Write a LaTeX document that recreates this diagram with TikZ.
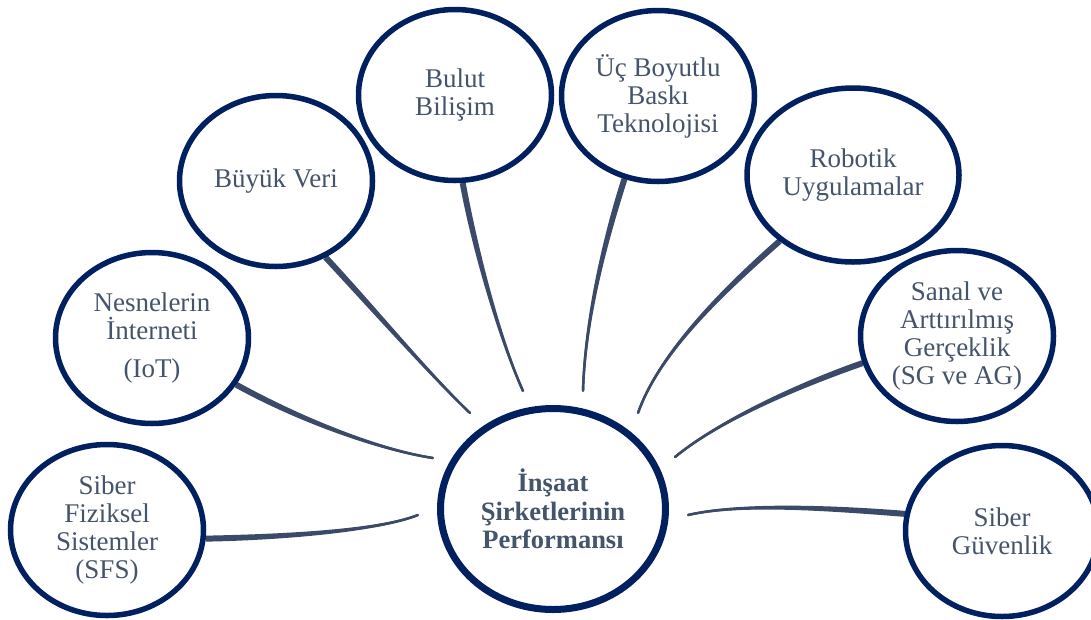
\documentclass[tikz,border=0pt]{standalone}
\usepackage{fontspec}
\setmainfont{Liberation Serif}
\usetikzlibrary{shapes.geometric,calc}
\pgfdeclarelayer{bg}
\pgfsetlayers{bg,main}
\definecolor{navy}{HTML}{002060}
\definecolor{slate}{HTML}{44546A}
\definecolor{connc}{HTML}{3B4A68}
% #1 start (node anchor), #2 control 1, #3 control 2, #4 end coordinate, #5 start half width, #6 end half width
\newcommand\tapercon[6]{%
  \coordinate (tA1) at ($(#1)!#5!90:(#2)$);
  \coordinate (tA2) at ($(#1)!#5!-90:(#2)$);
  \coordinate (tB1) at ($(#4)!#6!-90:(#3)$);
  \coordinate (tB2) at ($(#4)!#6!90:(#3)$);
  \fill[connc] (tA1) .. controls ($(#2)+(tA1)-(#1)$) and ($(#3)+(tB1)-(#4)$) .. (tB1)
     -- (tB2) .. controls ($(#3)+(tB2)-(#4)$) and ($(#2)+(tA2)-(#1)$) .. (tA2) -- cycle;
  \draw[link] (#1) .. controls (#2) and (#3) .. (#4);
}
\begin{document}
\begin{tikzpicture}[x=1pt,y=-1pt,
  sat/.style={ellipse, draw=navy, line width=5.5, fill=white, minimum width=193, minimum height=171,
    inner sep=0, text=slate, align=center, font=\fontsize{27}{28}\selectfont},
  hub/.style={ellipse, draw=navy, line width=7, fill=white, minimum width=225, minimum height=201,
    inner sep=0, text=slate, align=center, font=\fontsize{26.5}{28.3}\selectfont\bfseries},
  link/.style={draw=connc, line width=2.4, line cap=round}]
\clip (0,0) rectangle (1091,619);

\node[sat] (sf) at (107,530) {Siber\\Fiziksel\\Sistemler\\(SFS)};
\node[sat] (iot) at (152,338) {Nesnelerin\\İnterneti\\[10pt](IoT)};
\node[sat] (bv) at (276,181) {Büyük Veri};
\node[sat] (bb) at (455,95) {Bulut\\Bilişim};
\node[sat] (ucb) at (658,96) {Üç Boyutlu\\Baskı\\Teknolojisi};
\node[sat, minimum width=212, minimum height=174] (rob) at (853,175) {Robotik\\Uygulamalar};
\node[sat] (sag) at (957,336) {Sanal ve\\Arttırılmış\\Gerçeklik\\(SG ve AG)};
\node[sat] (sg) at (1002,531) {Siber\\Güvenlik};
\node[hub] (c) at (553,509) {İnşaat\\Şirketlerinin\\Performansı};

\coordinate (esf) at (418,515);
\coordinate (eiot) at (433,458);
\coordinate (ebv) at (470,413);
\coordinate (ebb) at (523,391);
\coordinate (eucb) at (583,391);
\coordinate (erob) at (638,413);
\coordinate (esag) at (675,457);
\coordinate (esg) at (688,515);

\begin{pgfonlayer}{bg}
\fill[white] (0,0) rectangle (1091,619);
\tapercon{sf.-5}{290,537}{380,530}{esf}{3pt}{1.2pt}
\tapercon{iot.-29}{300,420}{380,450}{eiot}{3pt}{1.2pt}
\tapercon{bv.-57}{370,305}{430,375}{ebv}{3pt}{1.2pt}
\tapercon{bb.-85}{475,250}{500,340}{ebb}{3pt}{1.2pt}
\tapercon{ucb.-112}{605,240}{585,320}{eucb}{3pt}{1.2pt}
\tapercon{rob.-138}{730,285}{660,350}{erob}{3pt}{1.2pt}
\tapercon{sag.-164}{800,385}{720,420}{esag}{3pt}{1.2pt}
\tapercon{sg.170}{830,508}{740,503}{esg}{3pt}{1.2pt}
\end{pgfonlayer}
\end{tikzpicture}
\end{document}
